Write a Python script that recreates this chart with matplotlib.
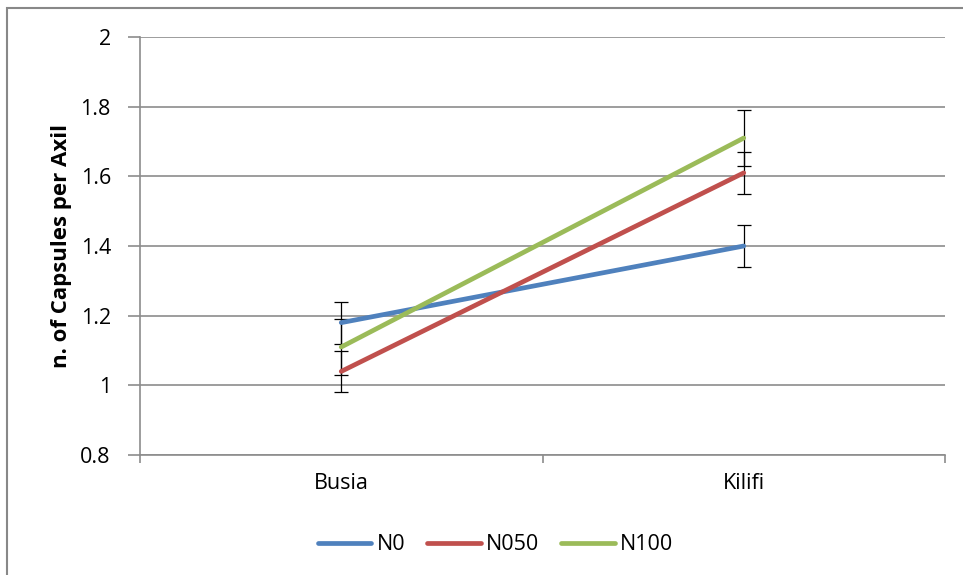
import matplotlib
matplotlib.use("Agg")
import matplotlib.pyplot as plt
from matplotlib.patches import Rectangle
import numpy as np

categories = ["Busia", "Kilifi"]
series_names = ["N0", "N050", "N100"]
n0 = [1.18, 1.40]
n050 = [1.04, 1.61]
n100 = [1.11, 1.71]
n0_err = [0.06, 0.06]
n050_err = [0.06, 0.06]
n100_err = [0.08, 0.08]
colors = ["#4F81BD", "#C0504D", "#9BBB59"]
yticks = [0.8, 1, 1.2, 1.4, 1.6, 1.8, 2]

plt.rcParams['font.family'] = ['Open Sans', 'DejaVu Sans']

fig = plt.figure(figsize=(9.63, 5.75), dpi=100)
# outer chart frame (left & top edges visible)
fig.add_artist(Rectangle((7/963, -0.1), 1.2, 1 - 8/575 + 0.1, transform=fig.transFigure,
                         fill=False, edgecolor="#888888", linewidth=1.5))

ax = fig.add_axes([140/963, 1 - 455/575, 805/963, 418/575])
x = np.arange(len(categories)) + 0.5
for vals, errs, c, name in zip([n0, n050, n100], [n0_err, n050_err, n100_err], colors, series_names):
    ax.errorbar(x, vals, yerr=errs, fmt='none', ecolor='black', elinewidth=0.9,
                capsize=5, capthick=0.9, zorder=2)
    ax.plot(x, vals, color=c, linewidth=3.4, solid_capstyle='round', label=name, zorder=3)

ax.set_xlim(0, 2)
ax.set_ylim(0.8, 2)
ax.set_yticks(yticks)
ax.set_yticklabels(["0.8", "1", "1.2", "1.4", "1.6", "1.8", "2"])
ax.yaxis.grid(True, color="#8c8c8c", linewidth=1.2)
ax.set_axisbelow(True)
ax.set_xticks([0, 1, 2])
ax.set_xticklabels([])
ax.set_xticks(x, minor=True)
ax.set_xticklabels(categories, minor=True)
ax.tick_params(axis='x', which='minor', length=0, pad=13, labelsize=15.5)
ax.tick_params(axis='x', which='major', length=6, width=1.2, color="#8c8c8c", direction='out')
ax.tick_params(axis='y', length=9, width=1.2, color="#8c8c8c", direction='out', pad=12, labelsize=15.5)
for s in ['top', 'right']:
    ax.spines[s].set_visible(False)
for s in ['left', 'bottom']:
    ax.spines[s].set_color("#8c8c8c")
    ax.spines[s].set_linewidth(1.2)

ax.set_ylabel("n. of Capsules per Axil", fontsize=16, fontweight='bold', labelpad=6)

leg = fig.legend(loc='center', bbox_to_anchor=(0.5 + 14/963, 1 - 545/575), ncol=3, frameon=False,
                 fontsize=15.5, handlelength=2.5, handletextpad=0.25, columnspacing=1.0)

fig.savefig("out.png", dpi=100)
